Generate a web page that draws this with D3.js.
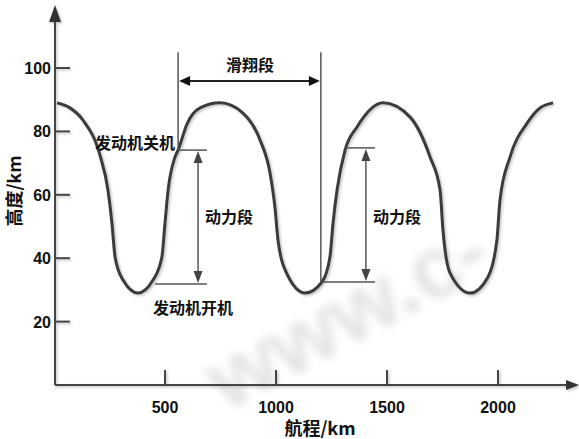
<!DOCTYPE html>
<html>
<head>
<meta charset="utf-8">
<script src="https://cdn.jsdelivr.net/npm/d3@7"></script>
<style>
  html, body { margin: 0; padding: 0; background: #fff; }
  svg { display: block; }
  text { font-family: "Liberation Sans", Arial, "Noto Sans CJK SC", sans-serif; font-weight: bold; fill: #111; }
  .cjk { font-family: "Noto Sans CJK SC", "Liberation Sans", sans-serif; font-weight: bold; }
</style>
</head>
<body>
<script>
// ---- data ----
const rangeKm = [0,70,130,207,243,261,275,311,378,446,486,500,514,545,559,599,658,748,851,928,973,995,1009,1041,1131,1207,1243,1257,1275,1311,1365,1482,1604,1694,1739,1752,1784,1874,1955,1995,2009,2054,2131,2189,2248];
const altitudeKm = [89,87.5,83.6,72.5,61.5,51.1,40.4,33.1,29,33.1,40.4,51.1,61.5,71.9,74.1,82.3,87.4,89,85.8,77.3,66.9,56.2,45.7,36.3,29,32.5,40.4,51.1,61.5,74.1,81.4,89,84.5,71.9,61.5,48.9,35.3,29,34.1,45.7,58.4,71.9,82.6,87.4,89];
const xTicks = [500, 1000, 1500, 2000];
const yTicks = [20, 40, 60, 80, 100];
const xTitle = "航程/km";
const yTitle = "高度/km";
const watermark = "www.c-";
// glide segment: start/end range (km), arrow altitude, top of guide lines
const glideRange = [559, 1202];
const glideAlt = 95.9;
const glideTop = 105;
const glideLabel = "滑翔段";
// powered segments: arrow x (km), top alt, bottom alt, top-line range, bottom-line range
const powerArrowX = [649, 1405];
const powerTop = [74.1, 74.8];
const powerBottom = [31.9, 32.5];
const powerTopLine = [[559, 689], [1311, 1446]];
const powerBottomLine = [[455, 689], [1207, 1446]];
const powerLabel = "动力段";
const engineOffLabel = "发动机关机";
const engineOnLabel = "发动机开机";

// ---- chart ----
const W = 579, H = 439;
const svg = d3.select("body").append("svg").attr("width", W).attr("height", H);

const x = d3.scaleLinear().domain([0, 2000]).range([54, 498]);
const y = d3.scaleLinear().domain([0, 100]).range([385, 68]);

const defs = svg.append("defs");
const f = defs.append("filter").attr("id", "sh").attr("x", "-10%").attr("y", "-10%").attr("width", "120%").attr("height", "120%");
f.append("feDropShadow").attr("dx", 1.5).attr("dy", 1.5).attr("stdDeviation", 1).attr("flood-color", "#888").attr("flood-opacity", 0.5);
const blur = defs.append("filter").attr("id", "wm").attr("x", "-20%").attr("y", "-20%").attr("width", "140%").attr("height", "140%");
blur.append("feGaussianBlur").attr("stdDeviation", 4);

// watermark (faint)
svg.append("text")
  .attr("transform", "translate(226,412) rotate(-28)")
  .attr("font-size", 88)
  .style("fill", "#e4e4e4")
  .attr("filter", "url(#wm)")
  .text(watermark);

// axes lines
const g = svg.append("g").attr("filter", "url(#sh)");
g.append("line").attr("x1", 55).attr("y1", 385).attr("x2", 55).attr("y2", 18)
  .attr("stroke", "#444").attr("stroke-width", 2);
g.append("path").attr("d", "M49,22 L55,5 L61,22 Z").attr("fill", "#333");
g.append("line").attr("x1", 55).attr("y1", 385).attr("x2", 568).attr("y2", 385)
  .attr("stroke", "#444").attr("stroke-width", 2);
g.append("path").attr("d", "M566,380 L579,385 L566,390 Z").attr("fill", "#333");

// y ticks
g.selectAll(".yt").data(yTicks).enter().append("line")
  .attr("x1", 55).attr("x2", 70).attr("y1", d => y(d)).attr("y2", d => y(d))
  .attr("stroke", "#444").attr("stroke-width", 2);
svg.selectAll(".ytl").data(yTicks).enter().append("text")
  .attr("x", 51).attr("y", d => y(d) + 6).attr("text-anchor", "end")
  .attr("font-size", 16).text(d => d);

// x ticks
g.selectAll(".xt").data(xTicks).enter().append("line")
  .attr("x1", d => x(d)).attr("x2", d => x(d)).attr("y1", 385).attr("y2", 370)
  .attr("stroke", "#444").attr("stroke-width", 2);
svg.selectAll(".xtl").data(xTicks).enter().append("text")
  .attr("x", d => x(d)).attr("y", 413).attr("text-anchor", "middle")
  .attr("font-size", 16).text(d => d);

// titles
svg.append("text").attr("class", "cjk").attr("x", 320).attr("y", 435).attr("text-anchor", "middle")
  .attr("font-size", 18).text(xTitle);
svg.append("text").attr("class", "cjk").attr("transform", "translate(21,191) rotate(-90)").attr("text-anchor", "middle")
  .attr("font-size", 18).text(yTitle);

// curve (starts at the y axis)
const pts = rangeKm.map((d, i) => [d, altitudeKm[i]]);
const line = d3.line().x(d => Math.max(x(d[0]), 57)).y(d => y(d[1])).curve(d3.curveMonotoneX);
svg.append("path").datum(pts).attr("d", line).attr("fill", "none")
  .attr("stroke", "#3a3a3a").attr("stroke-width", 3).attr("filter", "url(#sh)");

// annotations
const ann = svg.append("g");
const lc = "#555";
glideRange.forEach((d, i) => {
  const bottom = i === 0 ? powerTop[0] : powerBottom[1];
  ann.append("line").attr("x1", x(d)).attr("x2", x(d)).attr("y1", y(glideTop)).attr("y2", y(bottom))
    .attr("stroke", lc).attr("stroke-width", 1.5);
});
ann.append("line").attr("x1", x(glideRange[0]) + 9).attr("x2", x(glideRange[1]) - 9)
  .attr("y1", y(glideAlt)).attr("y2", y(glideAlt)).attr("stroke", "#222").attr("stroke-width", 2);
ann.append("path").attr("d", `M${x(glideRange[0])+1},${y(glideAlt)} l11,-5 l0,10 Z`).attr("fill", "#111");
ann.append("path").attr("d", `M${x(glideRange[1])-1},${y(glideAlt)} l-11,-5 l0,10 Z`).attr("fill", "#111");
svg.append("text").attr("class", "cjk").attr("x", 250).attr("y", 71).attr("text-anchor", "middle")
  .attr("font-size", 16).text(glideLabel);

powerArrowX.forEach((px, i) => {
  ann.append("line").attr("x1", x(powerTopLine[i][0])).attr("x2", x(powerTopLine[i][1]))
    .attr("y1", y(powerTop[i])).attr("y2", y(powerTop[i])).attr("stroke", lc).attr("stroke-width", 1.5);
  ann.append("line").attr("x1", x(powerBottomLine[i][0])).attr("x2", x(powerBottomLine[i][1]))
    .attr("y1", y(powerBottom[i])).attr("y2", y(powerBottom[i])).attr("stroke", lc).attr("stroke-width", 1.5);
  ann.append("line").attr("x1", x(px)).attr("x2", x(px))
    .attr("y1", y(powerTop[i]) + 10).attr("y2", y(powerBottom[i]) - 10).attr("stroke", lc).attr("stroke-width", 1.5);
  ann.append("path").attr("d", `M${x(px)},${y(powerTop[i])+1} l-4.5,12 l9,0 Z`).attr("fill", "#444");
  ann.append("path").attr("d", `M${x(px)},${y(powerBottom[i])-1} l-4.5,-12 l9,0 Z`).attr("fill", "#444");
  svg.append("text").attr("class", "cjk").attr("x", x(px) + 31).attr("y", 223).attr("text-anchor", "middle")
    .attr("font-size", 16).text(powerLabel);
});

svg.append("text").attr("class", "cjk").attr("x", 175).attr("y", 149).attr("text-anchor", "end")
  .attr("font-size", 16).text(engineOffLabel);
svg.append("text").attr("class", "cjk").attr("x", 193).attr("y", 314).attr("text-anchor", "middle")
  .attr("font-size", 16).text(engineOnLabel);
</script>
</body>
</html>
